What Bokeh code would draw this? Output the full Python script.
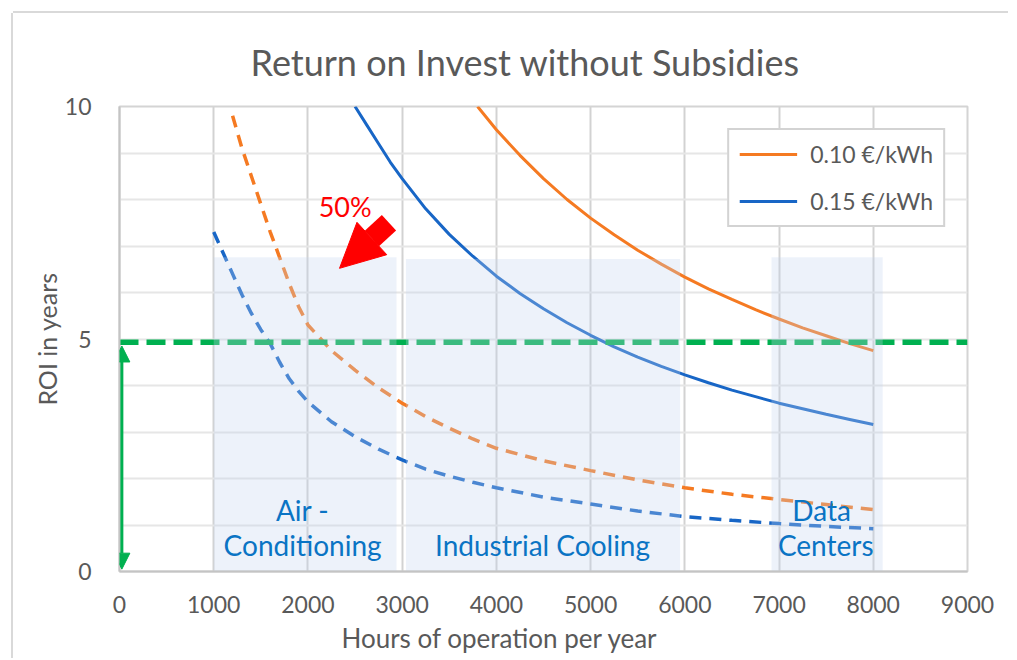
from bokeh.plotting import figure
from bokeh.models import (ColumnDataSource, Legend, LegendItem, Arrow, NormalHead,
                          Label, Title, FixedTicker, Range1d)
from bokeh.embed import file_html
from bokeh.resources import INLINE
from bokeh.core.properties import value

FONT = "Lato"
GREY = "#595959"
ORANGE = "#f57a22"
BLUE = "#1866c6"
GREEN = "#00b050"
RED = "#ff0000"
LABEL_BLUE = "#0a74c4"

# ---- data -------------------------------------------------------------
hours_o10 = [3800, 4000, 4250, 4500, 4750, 5000, 5250, 5500, 5750, 6000, 6250, 6500,
             6750, 7000, 7250, 7500, 7750, 8000]
roi_o10 = [10.0, 9.5, 8.95, 8.45, 8.0, 7.6, 7.24, 6.91, 6.61, 6.33, 6.08, 5.85,
           5.63, 5.43, 5.24, 5.07, 4.9, 4.75]

hours_b15 = [2500, 2625, 2750, 2875, 3000, 3250, 3500, 3750, 4000, 4250, 4500, 4750,
             5000, 5250, 5500, 5750, 6000, 6250, 6500, 6750, 7000, 7250, 7500, 7750, 8000]
roi_b15 = [10.0, 9.6, 9.2, 8.8, 8.45, 7.8, 7.25, 6.78, 6.35, 5.98, 5.65, 5.35,
           5.08, 4.83, 4.61, 4.41, 4.23, 4.06, 3.9, 3.76, 3.62, 3.5, 3.38, 3.27, 3.16]

hours_o10_sub = [1200, 1300, 1400, 1500, 1600, 1700, 1800, 1900, 2000, 2250, 2500, 2750,
                 3000, 3250, 3500, 3750, 4000, 4500, 5000, 5500, 6000, 6500, 7000, 7500, 8000]
roi_o10_sub = [9.8, 9.1, 8.5, 7.9, 7.3, 6.75, 6.2, 5.7, 5.3, 4.75, 4.33, 3.95,
               3.62, 3.33, 3.08, 2.85, 2.65, 2.38, 2.17, 1.97, 1.8, 1.66, 1.55, 1.44, 1.33]

hours_b15_sub = [1000, 1100, 1200, 1300, 1400, 1500, 1600, 1700, 1800, 1900, 2000, 2250,
                 2500, 2750, 3000, 3250, 3500, 3750, 4000, 4500, 5000, 5500, 6000, 6500,
                 7000, 7500, 8000]
roi_b15_sub = [7.3, 6.85, 6.4, 5.95, 5.55, 5.2, 4.9, 4.5, 4.15, 3.88, 3.65, 3.22,
               2.9, 2.63, 2.4, 2.2, 2.05, 1.92, 1.8, 1.6, 1.45, 1.3, 1.18, 1.1,
               1.03, 0.97, 0.92]

target_hours = [0, 9000]
target_roi = [4.93, 4.93]

region_left = [1000, 3040, 6920]
region_right = [2940, 5950, 8100]
region_top = [6.76, 6.72, 6.76]
region_bottom = [0, 0, 0]

region_text = ["Air -", "Conditioning", "Industrial Cooling", "Data", "Centers"]
region_text_x = [1943, 1943, 4490, 7452, 7495]
region_text_y = [1.33, 0.58, 0.58, 1.33, 0.58]

legend_labels = ["0.10 €/kWh", "0.15 €/kWh"]
x_ticks = [0, 1000, 2000, 3000, 4000, 5000, 6000, 7000, 8000, 9000]
y_ticks = [0, 5, 10]
y_grid = [0, 1, 2, 3, 4, 5, 6, 7, 8, 9, 10]

# ---- figure -------------------------------------------------------------
p = figure(width=995, height=645, output_backend="svg", toolbar_location=None,
           x_range=Range1d(0, 9000), y_range=Range1d(0, 10),
           min_border_left=106, min_border_right=41, min_border_top=93, min_border_bottom=86)
# light frame of the chart area (top and left edges, as in the cropped original)
p.styles = {"margin-left": "13px", "margin-top": "13px",
            "width": "995px", "height": "645px", "overflow": "hidden",
            "box-shadow": "-2px 0px 0px 0px #d9d9d9, 0px -2px 0px 0px #d9d9d9"}
p.background_fill_color = "white"
p.border_fill_color = "white"
p.outline_line_color = "#d4d4d4"
p.outline_line_width = 2

p.title.text = "Return on Invest without Subsidies"
p.title.align = "left"
p.title.offset = 131
p.title.text_font = FONT
p.title.text_font_size = "36px"
p.title.text_font_style = "normal"
p.title.text_color = GREY
p.title.standoff = 45

p.xaxis.ticker = FixedTicker(ticks=x_ticks)
p.yaxis.ticker = FixedTicker(ticks=y_ticks)
p.xgrid.ticker = FixedTicker(ticks=x_ticks)
p.ygrid.ticker = FixedTicker(ticks=y_grid)
p.xgrid.grid_line_color = "#d2d2d2"
p.xgrid.grid_line_width = 2
p.ygrid.grid_line_color = "#e6e6e6"
p.ygrid.grid_line_width = 2

for ax in (p.xaxis[0], p.yaxis[0]):
    ax.major_tick_line_color = None
    ax.minor_tick_line_color = None
    ax.major_label_text_font = FONT
    ax.major_label_text_font_size = "23px"
    ax.major_label_text_color = GREY
    ax.axis_line_color = "#c4c4c4"
    ax.axis_line_width = 2
p.xaxis.major_label_standoff = 18
p.yaxis.major_label_standoff = 22
p.yaxis.axis_label = "ROI in years"
p.yaxis.axis_label_text_font = FONT
p.yaxis.axis_label_text_font_size = "25px"
p.yaxis.axis_label_text_font_style = "normal"
p.yaxis.axis_label_text_color = GREY
p.yaxis.axis_label_standoff = 0

# x-axis title below the tick labels (centred as in the original chart)
p.add_layout(Title(text="Hours of operation per year", align="left", offset=222,
                   text_font=FONT, text_font_size="26px", text_font_style="normal",
                   text_color=GREY, standoff=9), "below")

# ---- lines ----------------------------------------------------------------
r_o = p.line(hours_o10, roi_o10, line_color=ORANGE, line_width=3)
r_b = p.line(hours_b15, roi_b15, line_color=BLUE, line_width=3)
p.line(hours_o10_sub, roi_o10_sub, line_color=ORANGE, line_width=3.5, line_dash="12 8")
p.line(hours_b15_sub, roi_b15_sub, line_color=BLUE, line_width=3.5, line_dash="12 8")

p.line(target_hours, target_roi, line_color=GREEN, line_width=5.5, line_dash="19 8")

# ---- shaded application regions (on top, translucent) ------------------
p.quad(left=region_left, right=region_right, top=region_top, bottom=region_bottom,
       fill_color="#c3d4ee", fill_alpha=0.3, line_color=None)

src = ColumnDataSource(dict(x=region_text_x, y=region_text_y, t=region_text))
p.text(x="x", y="y", text="t", source=src, text_font=value(FONT), text_font_size="28px",
       text_color=LABEL_BLUE, text_align="center", text_baseline="middle")

# ---- annotations ------------------------------------------------------------
p.add_layout(Arrow(start=NormalHead(size=16, fill_color=GREEN, line_color=GREEN),
                   end=NormalHead(size=16, fill_color=GREEN, line_color=GREEN),
                   x_start=25, y_start=0.05, x_end=25, y_end=4.85,
                   line_color=GREEN, line_width=3))

p.add_layout(Arrow(end=NormalHead(size=44, fill_color=RED, line_color=RED),
                   x_start=2860, y_start=7.5, x_end=2335, y_end=6.52,
                   line_color=RED, line_width=21))
p.add_layout(Label(x=2395, y=7.85, text="50%", text_font=FONT, text_font_size="27px",
                   text_color=RED, text_align="center", text_baseline="middle"))

legend = Legend(items=[LegendItem(label=legend_labels[0], renderers=[r_o]),
                       LegendItem(label=legend_labels[1], renderers=[r_b])],
                location="top_right", margin=22, padding=10, spacing=19,
                glyph_width=58, glyph_height=24, label_height=24, label_standoff=13,
                label_text_font=FONT, label_text_font_size="23px", label_text_color=GREY,
                border_line_color="#a8a8a8", border_line_width=2,
                background_fill_color="white", background_fill_alpha=1)
p.add_layout(legend, "center")

open("out.html", "w").write(file_html(p, INLINE))
